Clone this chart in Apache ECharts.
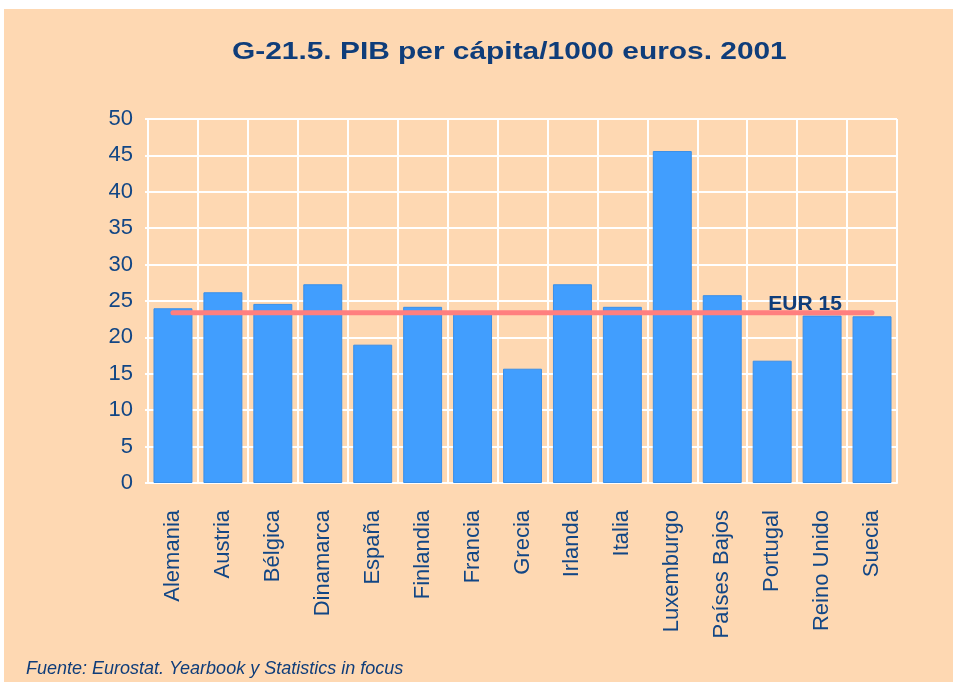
<!DOCTYPE html>
<html><head><meta charset="utf-8">
<script src="https://cdn.jsdelivr.net/npm/echarts@6/dist/echarts.min.js"></script>
<style>html,body{margin:0;padding:0;background:#fff;}#c{width:953px;height:686px;}</style>
</head><body><div id="c"></div>
<script>
var categories = ['Alemania','Austria','Bélgica','Dinamarca','España','Finlandia','Francia','Grecia','Irlanda','Italia','Luxemburgo','Países Bajos','Portugal','Reino Unido','Suecia'];
var pibValues = [24.0, 26.2, 24.6, 27.3, 19.0, 24.2, 23.3, 15.7, 27.3, 24.2, 45.6, 25.8, 16.8, 23.0, 22.9];
var eur15Value = 23.4;
var eur15Label = 'EUR 15';
var yTicks = [0, 5, 10, 15, 20, 25, 30, 35, 40, 45, 50];
var titleText = 'G-21.5. PIB per cápita/1000 euros. 2001';
var sourceText = 'Fuente: Eurostat. Yearbook y Statistics in focus';

var navy = '#124685';
var eurLine = categories.map(function(){ return eur15Value; });
var eurData = eurLine.map(function(v, i){
  if (i === 13) return {value: v, label: {show: true, formatter: eur15Label, position: 'top', distance: 0, offset: [-17, 3], color: '#0F3D7A', fontWeight: 'bold', fontSize: 21, fontFamily: 'Liberation Sans'}};
  return v;
});

var chart = echarts.init(document.getElementById('c'), null, {renderer: 'canvas'});
chart.setOption({
  backgroundColor: '#ffffff',
  animation: false,
  graphic: [
    {type: 'rect', z: -10, shape: {x: 4, y: 9, width: 949, height: 673}, style: {fill: '#FED8B2'}},
    {type: 'text', x: 232, y: 52, scaleX: 1.245, z: 10,
      style: {text: titleText, fill: '#0F3D7A', fontSize: 24, fontWeight: 'bold', fontFamily: 'Liberation Sans', align: 'left', verticalAlign: 'middle'}},
    {type: 'text', x: 26, y: 669, z: 10,
      style: {text: sourceText, fill: '#0F3D7A', fontSize: 18, fontStyle: 'italic', fontFamily: 'Liberation Sans', align: 'left', verticalAlign: 'middle'}}
  ],
  grid: {left: 148, right: 56, top: 119, bottom: 203},
  xAxis: {type: 'category', data: categories, boundaryGap: true,
    axisLine: {show: true, lineStyle: {color: '#ffffff', width: 2}},
    axisTick: {show: false},
    splitLine: {show: true, interval: 0, lineStyle: {color: '#ffffff', width: 2}},
    axisLabel: {rotate: 90, interval: 0, margin: 27, color: navy, fontSize: 22, fontFamily: 'Liberation Sans'}},
  yAxis: {type: 'value', min: yTicks[0], max: yTicks[yTicks.length-1], interval: 5,
    axisLine: {show: true, lineStyle: {color: '#ffffff', width: 2}},
    axisTick: {show: true, length: 3, lineStyle: {color: '#ffffff', width: 2}},
    splitLine: {show: true, lineStyle: {color: '#ffffff', width: 2}},
    axisLabel: {margin: 15, color: navy, fontSize: 22, fontFamily: 'Liberation Sans'}},
  series: [
    {type: 'bar', data: pibValues, barCategoryGap: '22%',
      itemStyle: {color: '#419EFE', borderColor: '#3A8FE8', borderWidth: 1}},
    {type: 'line', data: eurData, symbol: 'circle', symbolSize: 1, z: 5,
      itemStyle: {color: 'rgba(0,0,0,0)', borderWidth: 0},
      lineStyle: {color: '#FF7F7F', width: 5, cap: 'round'}}
  ]
});
</script>
</body></html>
